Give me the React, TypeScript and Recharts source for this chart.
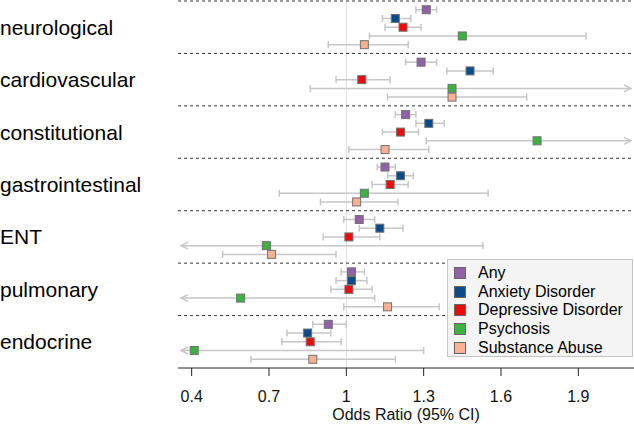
import { ComposedChart, ReferenceLine, Scatter, XAxis, YAxis } from 'recharts'

const categories = ['neurological', 'cardiovascular', 'constitutional', 'gastrointestinal', 'ENT', 'pulmonary', 'endocrine']
const seriesNames = ['Any', 'Anxiety Disorder', 'Depressive Disorder', 'Psychosis', 'Substance Abuse']
const seriesColors = ['#9160A8', '#0C4A8E', '#EE0B0B', '#3CB340', '#FBB092']

// odds ratio per series, one value per category
const oddsAny = [1.31, 1.29, 1.23, 1.15, 1.05, 1.02, 0.93]
const oddsAnxiety = [1.19, 1.48, 1.32, 1.21, 1.13, 1.02, 0.85]
const oddsDepressive = [1.22, 1.06, 1.21, 1.17, 1.01, 1.01, 0.86]
const oddsPsychosis = [1.45, 1.41, 1.74, 1.07, 0.69, 0.59, 0.41]
const oddsSubstance = [1.07, 1.41, 1.15, 1.04, 0.71, 1.16, 0.87]

// 95% CI bounds, null = beyond the axis (drawn as arrow)
const lowAny = [1.27, 1.23, 1.19, 1.12, 0.99, 0.98, 0.87]
const lowAnxiety = [1.14, 1.39, 1.27, 1.16, 1.05, 0.96, 0.77]
const lowDepressive = [1.15, 0.96, 1.14, 1.1, 0.91, 0.94, 0.75]
const lowPsychosis = [1.09, 0.86, 1.31, 0.74, null, null, null]
const lowSubstance = [0.93, 1.16, 1.01, 0.9, 0.52, 0.99, 0.63]

const highAny = [1.35, 1.35, 1.27, 1.19, 1.11, 1.07, 1.0]
const highAnxiety = [1.25, 1.57, 1.38, 1.26, 1.22, 1.08, 0.94]
const highDepressive = [1.29, 1.17, 1.28, 1.24, 1.13, 1.1, 0.98]
const highPsychosis = [1.93, null, null, 1.55, 1.53, 1.11, 1.3]
const highSubstance = [1.24, 1.7, 1.32, 1.2, 0.96, 1.36, 1.19]

const xTicks = [0.4, 0.7, 1, 1.3, 1.6, 1.9]
const xMin = 0.347
const xMax = 2.116

const odds = [oddsAny, oddsAnxiety, oddsDepressive, oddsPsychosis, oddsSubstance]
const lows = [lowAny, lowAnxiety, lowDepressive, lowPsychosis, lowSubstance]
const highs = [highAny, highAnxiety, highDepressive, highPsychosis, highSubstance]

const rowY = (cat: number, s: number) => cat * 6 + s + 1
const font = '"Liberation Sans", Arial, Helvetica, sans-serif'

if (typeof document !== 'undefined') document.body.style.margin = '0'

const pointData = odds.map((vals, s) => vals.map((x, c) => ({ x, y: rowY(c, s) })))

const ciData = odds.flatMap((vals, s) =>
  vals.map((_, c) => {
    const lo = lows[s][c]
    const hi = highs[s][c]
    const y = rowY(c, s)
    return {
      id: `${s}-${c}`,
      points: [
        { x: lo ?? xMin + 0.012, y, kind: lo == null ? 'arrowL' : 'cap' },
        { x: hi ?? xMax - 0.012, y, kind: hi == null ? 'arrowR' : 'cap' },
      ],
    }
  }),
)

const ciEnd = (props: any) => {
  const { cx, cy, payload } = props
  const stroke = '#c6c6c6'
  if (payload.kind === 'arrowL') return <polyline points={`${cx + 7},${cy - 3.5} ${cx},${cy} ${cx + 7},${cy + 3.5}`} fill="none" stroke={stroke} strokeWidth={1.5} />
  if (payload.kind === 'arrowR') return <polyline points={`${cx - 7},${cy - 3.5} ${cx},${cy} ${cx - 7},${cy + 3.5}`} fill="none" stroke={stroke} strokeWidth={1.5} />
  return <line x1={cx} x2={cx} y1={cy - 3.5} y2={cy + 3.5} stroke={stroke} strokeWidth={1.5} />
}

const square = (color: string) => (props: any) => (
  <rect x={props.cx - 4} y={props.cy - 4} width={8} height={8} fill={color} stroke="#707070" strokeWidth={1} />
)

const CategoryTick = (props: any) => (
  <text x={0} y={props.y} dominantBaseline="central" fontSize={21} fill="#000" fontFamily={font}>
    {categories[props.index]}
  </text>
)

export default function App() {
  return (
    <div style={{ position: 'relative', width: 634, height: 427, fontFamily: font, background: '#fff' }}>
      <ComposedChart width={634} height={427} margin={{ top: 1, right: 0, bottom: 0, left: 0 }}>
        <XAxis
          type="number"
          dataKey="x"
          domain={[xMin, xMax]}
          allowDataOverflow
          ticks={xTicks}
          tickFormatter={(v) => String(v)}
          height={59}
          tickSize={8}
          tickMargin={15}
          stroke="#222"
          tick={{ fontSize: 16, fill: '#111', fontFamily: font }}
          label={{ value: 'Odds Ratio (95% CI)', position: 'insideBottom', offset: 7, fontSize: 16, fill: '#111', fontFamily: font }}
        />
        <YAxis
          type="number"
          dataKey="y"
          domain={[0, 42]}
          reversed
          allowDataOverflow
          ticks={categories.map((_, i) => i * 6 + 3)}
          width={178}
          axisLine={false}
          tickLine={false}
          tick={<CategoryTick />}
        />
        <ReferenceLine x={1} stroke="#dcdcdc" strokeWidth={1} />
        {categories.map((_, i) => (
          <ReferenceLine key={i} y={i * 6} stroke="#333" strokeDasharray="3 3" strokeWidth={1} />
        ))}
        {ciData.map((ci) => (
          <Scatter
            key={ci.id}
            data={ci.points}
            fill="none"
            line={{ stroke: '#c6c6c6', strokeWidth: 1.5 }}
            shape={ciEnd}
            isAnimationActive={false}
          />
        ))}
        {pointData.map((pts, s) => (
          <Scatter key={seriesNames[s]} name={seriesNames[s]} data={pts} fill={seriesColors[s]} shape={square(seriesColors[s])} isAnimationActive={false} />
        ))}
      </ComposedChart>
      <div
        style={{
          position: 'absolute',
          left: 447,
          top: 259,
          width: 186,
          height: 98,
          boxSizing: 'border-box',
          background: '#f4f4f4',
          border: '1px solid #c4c4c4',
          padding: '4px 0 0 6px',
        }}
      >
        {seriesNames.map((name, s) => (
          <div key={name} style={{ display: 'flex', alignItems: 'center', height: 18.6, fontSize: 16, color: '#000' }}>
            <span style={{ width: 12, height: 12, boxSizing: 'border-box', background: seriesColors[s], border: '1px solid #666', marginRight: 12, flex: 'none' }} />
            {name}
          </div>
        ))}
      </div>
    </div>
  )
}
